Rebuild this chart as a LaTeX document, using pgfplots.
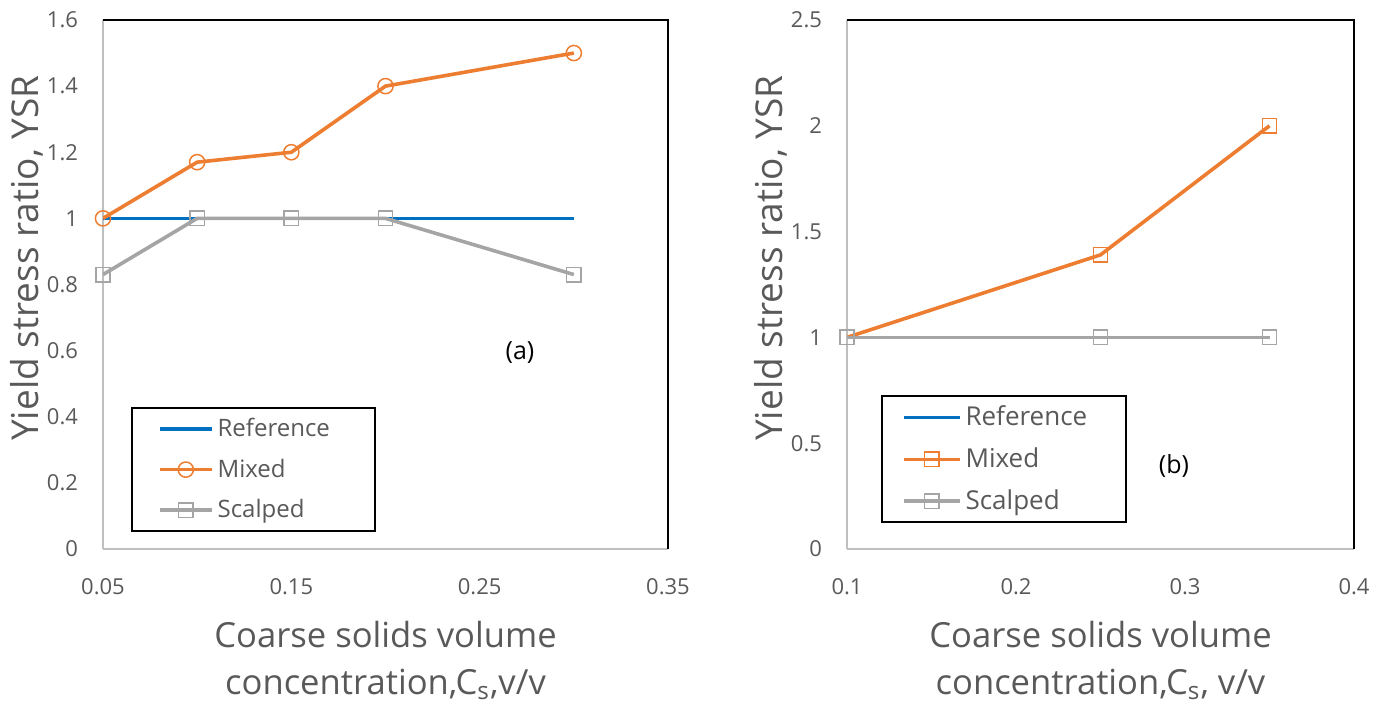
\documentclass[border=0pt]{standalone}
\usepackage{pgfplots}
\pgfplotsset{compat=1.18}
\usepackage{fontspec}
\setmainfont{Open Sans}
\definecolor{refBlue}{HTML}{0070C0}
\definecolor{mixOrange}{HTML}{ED7D31}
\definecolor{scalGray}{HTML}{A5A5A5}
\definecolor{txtGray}{HTML}{595959}
\definecolor{axGray}{HTML}{BFBFBF}

\pgfplotsset{
  ysrstyle/.style={
    scale only axis,
    height=264.5pt,
    axis x line*=bottom,
    axis y line*=left,
    axis line style={draw=axGray,line width=0.75pt},
    major tick length=0pt,
    tick style={draw=none},
    /pgf/number format/assume math mode=true,
    ticklabel style={font=\fontsize{11}{13}\selectfont,text=txtGray},
    yticklabel style={xshift=-9pt},
    xticklabel style={yshift=-11pt},
    xlabel style={at={(axis description cs:0.5,0)},anchor=north,yshift=-32.5pt,
      align=center,font=\fontsize{17.3}{23.5}\selectfont,text=txtGray},
    ylabel style={at={(axis description cs:0,0.55)},anchor=center,yshift=38pt,
      font=\fontsize{18.5}{20}\selectfont,text=txtGray},
    ylabel={Yield stress ratio, YSR},
    legend cell align=left,
    legend style={draw=black,line width=1pt,fill=white,text=txtGray,inner ysep=3pt},
    after end axis/.code={
      \draw[black,line width=0.75pt] (rel axis cs:0,1) -- (rel axis cs:1,1) -- (rel axis cs:1,0);
    },
  },
  refline/.style={refBlue,line width=1.8pt,no markers},
  mixline/.style={mixOrange,line width=1.8pt},
  scalline/.style={scalGray,line width=1.8pt,mark=square,mark size=3.6pt,mark options={line width=0.75pt}},
}

\begin{document}
\begin{tikzpicture}
\path[use as bounding box] (-51.5pt,-78pt) rectangle (635.5pt,274.5pt);

% (a)
\begin{axis}[
  ysrstyle,
  at={(0pt,0pt)},anchor=south west,
  width=282.5pt,
  xmin=0.05,xmax=0.35,
  ymin=0,ymax=1.6,
  xtick={0.05,0.15,0.25,0.35},
  ytick={0,0.2,0.4,0.6,0.8,1,1.2,1.4,1.6},
  xticklabel style={/pgf/number format/fixed,/pgf/number format/precision=2},
  xlabel={Coarse solids volume\\concentration,C\textsubscript{s},v/v},
  legend image code/.code={\draw[mark repeat=2,mark phase=2,#1]
      plot coordinates {(0pt,0pt) (13pt,0pt) (26pt,0pt)};},
  legend style={at={(axis description cs:0.0496,0.268)},anchor=north west,
    font=\fontsize{12}{14}\selectfont,row sep=5.7pt,inner xsep=13pt},
]
\addplot[refline] coordinates {(0.05,1) (0.1,1) (0.15,1) (0.2,1) (0.3,1)};
\addlegendentry{\makebox[63.5pt][l]{Reference}}
\addplot[mixline,mark=o,mark size=3.8pt,mark options={line width=0.75pt}] coordinates {
  (0.05,1) (0.1,1.17) (0.15,1.2) (0.2,1.4) (0.3,1.5)};
\addlegendentry{Mixed}
\addplot[scalline] coordinates {
  (0.05,0.83) (0.1,1) (0.15,1) (0.2,1) (0.3,0.83)};
\addlegendentry{Scalped}
\node[font=\fontsize{12.5}{14}\selectfont,text=black] at (axis cs:0.2714,0.593) {(a)};
\end{axis}

% (b)
\begin{axis}[
  ysrstyle,
  at={(372pt,0pt)},anchor=south west,
  width=253.5pt,
  xmin=0.1,xmax=0.4,
  ymin=0,ymax=2.5,
  xtick={0.1,0.2,0.3,0.4},
  ytick={0,0.5,1,1.5,2,2.5},
  xlabel={Coarse solids volume\\concentration,C\textsubscript{s}, v/v},
  legend image code/.code={\draw[mark repeat=2,mark phase=2,#1]
      plot coordinates {(0pt,0pt) (14pt,0pt) (28pt,0pt)};},
  legend style={at={(axis description cs:0.067,0.291)},anchor=north west,
    font=\fontsize{13}{15}\selectfont,row sep=5.5pt,inner xsep=10pt},
]
\addplot[refline] coordinates {(0.1,1) (0.25,1) (0.35,1)};
\addlegendentry{\makebox[68pt][l]{Reference}}
\addplot[mixline,mark=square,mark size=3.6pt,mark options={line width=0.75pt}] coordinates {
  (0.1,1) (0.25,1.39) (0.35,2)};
\addlegendentry{Mixed}
\addplot[scalline] coordinates {(0.1,1) (0.25,1) (0.35,1)};
\addlegendentry{Scalped}
\node[font=\fontsize{12.5}{14}\selectfont,text=black] at (axis cs:0.2935,0.392) {(b)};
\end{axis}
\end{tikzpicture}
\end{document}
